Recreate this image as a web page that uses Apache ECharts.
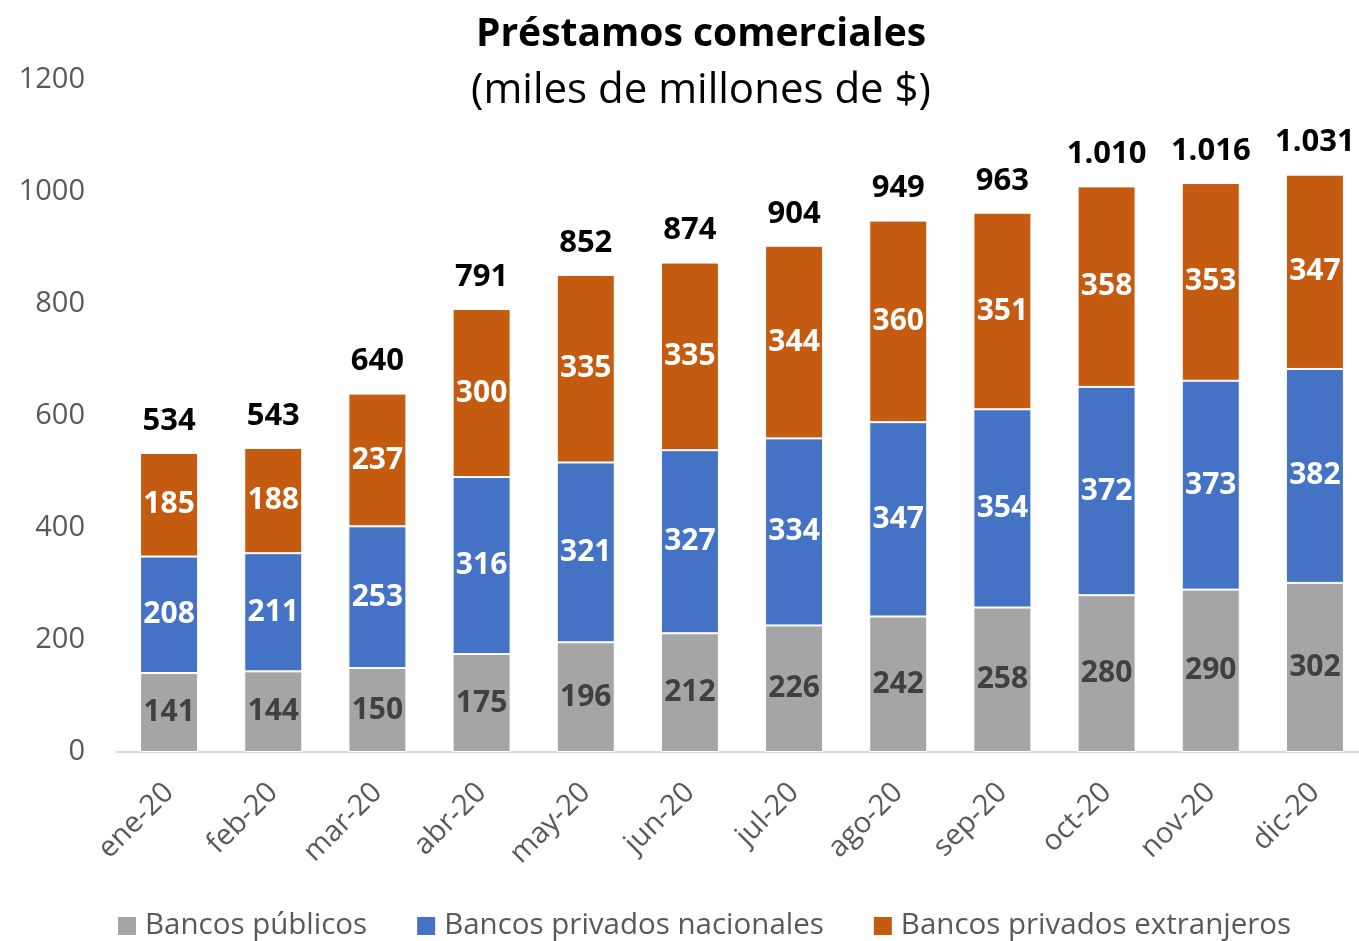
<!DOCTYPE html>
<html>
<head>
<meta charset="utf-8">
<script src="https://cdn.jsdelivr.net/npm/echarts@6/dist/echarts.min.js"></script>
<style>
    html, body { margin: 0; padding: 0; background: #fff; }
    #chart { width: 1359px; height: 941px; }
</style>
</head>
<body>
<div id="chart"></div>
<script>
    // datos
    const months = ['ene-20', 'feb-20', 'mar-20', 'abr-20', 'may-20', 'jun-20', 'jul-20', 'ago-20', 'sep-20', 'oct-20', 'nov-20', 'dic-20'];
    const publicos = [141, 144, 150, 175, 196, 212, 226, 242, 258, 280, 290, 302];
    const nacionales = [208, 211, 253, 316, 321, 327, 334, 347, 354, 372, 373, 382];
    const extranjeros = [185, 188, 237, 300, 335, 335, 344, 360, 351, 358, 353, 347];
    const totales = [534, 543, 640, 791, 852, 874, 904, 949, 963, 1010, 1016, 1031];

    const font = '"Open Sans", sans-serif';
    const myChart = echarts.init(document.getElementById('chart'));

    function fmtMiles(v) {
        return String(v).replace(/\B(?=(\d{3})+(?!\d))/g, '.');
    }

    const barBase = {
        type: 'bar',
        stack: 'total',
        barWidth: 58,
        label: {
            show: true,
            position: 'inside',
            fontFamily: font,
            fontSize: 30,
            fontWeight: 'bold',
            color: '#fff'
        }
    };

    const option = {
        animation: false,
        textStyle: { fontFamily: font },
        title: {
            text: 'Préstamos comerciales',
            subtext: '(miles de millones de $)',
            left: 696,
            textAlign: 'center',
            top: 10,
            itemGap: 16,
            textStyle: { fontFamily: font, fontSize: 39, fontWeight: 'bold', color: '#000' },
            subtextStyle: { fontFamily: font, fontSize: 42, color: '#000' }
        },
        legend: {
            data: ['Bancos públicos', 'Bancos privados nacionales', 'Bancos privados extranjeros'],
            bottom: -5,
            left: 111,
            icon: 'rect',
            itemWidth: 20,
            itemHeight: 20,
            itemGap: 48,
            textStyle: { fontFamily: font, fontSize: 29.5, color: '#595959', padding: [0, 0, 0, 3] }
        },
        grid: {
            left: 117,
            right: -8,
            top: 80,
            bottom: 189,
            outerBoundsMode: 'none',
            containLabel: false
        },
        xAxis: {
            type: 'category',
            data: months,
            axisTick: { show: false },
            axisLine: { lineStyle: { color: '#d9d9d9', width: 2 } },
            axisLabel: {
                rotate: 45,
                fontFamily: font,
                fontSize: 29,
                color: '#595959',
                margin: 36
            }
        },
        yAxis: {
            type: 'value',
            min: 0,
            max: 1200,
            interval: 200,
            splitLine: { show: false },
            axisLine: { show: false },
            axisTick: { show: false },
            axisLabel: {
                fontFamily: font,
                fontSize: 29,
                color: '#595959',
                margin: 32,
                formatter: v => String(v)
            }
        },
        series: [
            Object.assign({}, barBase, {
                name: 'Bancos públicos',
                data: publicos,
                itemStyle: { color: '#a5a5a5', borderColor: '#fff', borderWidth: 1 },
                label: Object.assign({}, barBase.label, { color: '#404040' })
            }),
            Object.assign({}, barBase, {
                name: 'Bancos privados nacionales',
                data: nacionales,
                itemStyle: { color: '#4472c4', borderColor: '#fff', borderWidth: 1 }
            }),
            Object.assign({}, barBase, {
                name: 'Bancos privados extranjeros',
                data: extranjeros,
                itemStyle: { color: '#c55a11', borderColor: '#fff', borderWidth: 1 }
            }),
            {
                name: 'Total',
                type: 'scatter',
                data: totales,
                symbolSize: 1,
                itemStyle: { color: 'rgba(0,0,0,0)' },
                label: {
                    show: true,
                    position: 'top',
                    distance: 16,
                    fontFamily: font,
                    fontSize: 31,
                    fontWeight: 'bold',
                    color: '#000',
                    opacity: 1,
                    formatter: p => fmtMiles(p.value)
                }
            }
        ]
    };
    myChart.setOption(option);
</script>
</body>
</html>
